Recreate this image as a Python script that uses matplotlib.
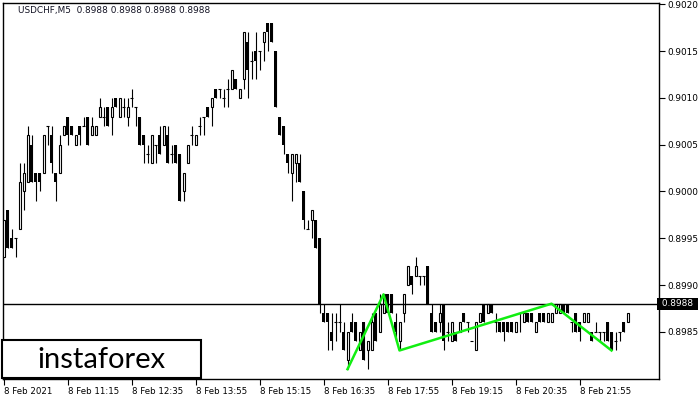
import numpy as np
import matplotlib
matplotlib.use("Agg")
import matplotlib.pyplot as plt
from matplotlib.patches import Rectangle
from matplotlib.ticker import FormatStrFormatter
import matplotlib.transforms as mtransforms

plt.rcParams["font.family"] = "DejaVu Sans"

# USDCHF M5 quotes, in pips (1 pip = 0.0001)
opens = [
    8993, 8998, 8995, 8995, 8996, 9000, 9001, 9005, 9002, 9002,
    9002, 9007, 9006, 9002, 9002, 9006, 9008, 9007, 9005, 9007,
    9007, 9008, 9006, 9006, 9008, 9008, 9009, 9008, 9010, 9008,
    9009, 9008, 9010, 9009, 9008, 9006, 9004, 9003, 9005, 9006,
    9005, 9006, 9004, 9005, 9004, 9000, 9003, 9006, 9005, 9007,
    9008, 9009, 9009, 9011, 9011, 9010, 9011, 9011, 9012, 9010,
    9012, 9016, 9014, 9015, 9015, 9016, 9018, 9018, 9015, 9008,
    9007, 9004, 9002, 9003, 9003, 9000, 8996, 8997, 8997, 8995,
    8987, 8987, 8985, 8986, 8986, 8985, 8982, 8986, 8986, 8983,
    8986, 8983, 8983, 8987, 8985, 8987, 8989, 8989, 8986, 8984,
    8987, 8990, 8991, 8991, 8991, 8991, 8992, 8987, 8986, 8986,
    8988, 8985, 8984, 8985, 8985, 8987, 8986, 8984, 8983, 8986,
    8988, 8987, 8988, 8986, 8986, 8986, 8986, 8986, 8985, 8987,
    8986, 8987, 8987, 8985, 8987, 8987, 8986, 8986, 8987, 8987,
    8988, 8988, 8986, 8987, 8986, 8986, 8986, 8985, 8985, 8985,
    8985, 8986, 8985, 8984, 8985, 8986, 8986,
]
highs = [
    8997, 8998, 8996, 8995, 9003, 9003, 9007, 9006, 9002, 9002,
    9006, 9007, 9007, 9002, 9006, 9007, 9008, 9007, 9006, 9007,
    9008, 9008, 9008, 9007, 9010, 9009, 9009, 9010, 9010, 9010,
    9010, 9010, 9011, 9009, 9008, 9006, 9005, 9006, 9005, 9007,
    9007, 9007, 9005, 9005, 9004, 9002, 9005, 9007, 9006, 9008,
    9008, 9009, 9010, 9011, 9011, 9011, 9012, 9013, 9012, 9011,
    9017, 9017, 9015, 9017, 9015, 9017, 9018, 9018, 9015, 9008,
    9007, 9004, 9004, 9004, 9004, 9000, 8997, 8998, 8997, 8995,
    8988, 8987, 8987, 8987, 8988, 8986, 8985, 8987, 8986, 8985,
    8986, 8984, 8987, 8987, 8989, 8989, 8989, 8989, 8987, 8986,
    8989, 8992, 8991, 8993, 8991, 8991, 8992, 8988, 8986, 8988,
    8988, 8986, 8986, 8985, 8986, 8987, 8986, 8984, 8986, 8987,
    8988, 8988, 8988, 8987, 8986, 8986, 8986, 8986, 8986, 8987,
    8987, 8987, 8987, 8986, 8987, 8987, 8987, 8987, 8988, 8988,
    8988, 8988, 8986, 8987, 8986, 8987, 8987, 8985, 8986, 8985,
    8985, 8986, 8985, 8985, 8985, 8986, 8987,
]
lows = [
    8993, 8994, 8994, 8993, 8996, 8998, 9001, 9001, 8999, 9000,
    9002, 9005, 9002, 8999, 9002, 9006, 9005, 9006, 9005, 9005,
    9007, 9005, 9006, 9006, 9008, 9007, 9007, 9006, 9009, 9008,
    9008, 9007, 9009, 9007, 9005, 9003, 9003, 9003, 9003, 9004,
    9005, 9003, 9003, 9003, 8999, 8999, 9003, 9005, 9005, 9006,
    9006, 9008, 9007, 9010, 9010, 9009, 9009, 9011, 9011, 9010,
    9011, 9010, 9012, 9012, 9013, 9014, 9015, 9016, 9009, 9006,
    9004, 9002, 8999, 9001, 9001, 8996, 8996, 8995, 8994, 8987,
    8986, 8983, 8983, 8984, 8985, 8983, 8981, 8985, 8984, 8983,
    8982, 8981, 8983, 8984, 8985, 8987, 8987, 8987, 8984, 8983,
    8986, 8990, 8989, 8991, 8990, 8990, 8988, 8985, 8985, 8985,
    8983, 8984, 8984, 8984, 8985, 8986, 8985, 8984, 8983, 8986,
    8986, 8987, 8987, 8985, 8985, 8984, 8985, 8985, 8985, 8985,
    8986, 8986, 8986, 8985, 8986, 8986, 8986, 8986, 8987, 8987,
    8987, 8987, 8985, 8985, 8984, 8986, 8986, 8984, 8985, 8984,
    8984, 8984, 8983, 8983, 8984, 8985, 8986,
]
closes = [
    8997, 8994, 8994, 8995, 9001, 9002, 9006, 9001, 9001, 9001,
    9006, 9007, 9003, 9001, 9005, 9007, 9006, 9006, 9006, 9006,
    9007, 9005, 9007, 9007, 9009, 9008, 9007, 9009, 9009, 9010,
    9009, 9009, 9010, 9009, 9005, 9005, 9004, 9006, 9005, 9004,
    9007, 9003, 9004, 9003, 8999, 9002, 9005, 9006, 9006, 9007,
    9008, 9008, 9010, 9010, 9011, 9010, 9011, 9013, 9011, 9011,
    9017, 9013, 9014, 9014, 9015, 9017, 9017, 9016, 9009, 9006,
    9005, 9003, 9004, 9004, 9001, 8997, 8996, 8998, 8994, 8988,
    8986, 8986, 8984, 8986, 8986, 8983, 8985, 8985, 8984, 8985,
    8982, 8984, 8986, 8984, 8988, 8989, 8987, 8987, 8985, 8986,
    8989, 8992, 8990, 8992, 8991, 8991, 8988, 8985, 8985, 8987,
    8984, 8985, 8986, 8984, 8986, 8986, 8986, 8984, 8986, 8987,
    8986, 8988, 8987, 8986, 8985, 8985, 8985, 8985, 8986, 8987,
    8987, 8986, 8986, 8986, 8986, 8986, 8987, 8987, 8988, 8988,
    8987, 8987, 8986, 8985, 8985, 8987, 8987, 8984, 8985, 8985,
    8985, 8984, 8983, 8984, 8985, 8985, 8987,
]

pip = 0.0001
o = np.array(opens) * pip
h = np.array(highs) * pip
l = np.array(lows) * pip
c = np.array(closes) * pip
x = np.arange(len(o))

# pattern zigzag (candle index, price)
pattern_idx = [86, 95, 99, 137, 152]
pattern_px = [0.8981, 0.8989, 0.8983, 0.8988, 0.8983]

bid = 0.8988
tick_idx = [0, 16, 32, 48, 64, 80, 96, 112, 128, 144]
tick_labels = ["8 Feb 2021", "8 Feb 11:15", "8 Feb 12:35", "8 Feb 13:55",
               "8 Feb 15:15", "8 Feb 16:35", "8 Feb 17:55", "8 Feb 19:15",
               "8 Feb 20:35", "8 Feb 21:55"]
price_ticks = [0.8985, 0.8990, 0.8995, 0.9000, 0.9005, 0.9010, 0.9015, 0.9020]

fig = plt.figure(figsize=(7, 4), dpi=100)
ax = fig.add_axes([3 / 700, 21 / 400, 656 / 700, 376 / 400])

ax.vlines(x, l, h, color="black", linewidth=0.8, zorder=2)
up = c > o
down = c < o
flat = c == o
ax.bar(x[down], (o - c)[down], bottom=c[down], width=0.75,
       color="black", linewidth=0, zorder=3)
ax.bar(x[up], (c - o)[up], bottom=o[up], width=0.5,
       facecolor="white", edgecolor="black", linewidth=0.8, zorder=3)
ax.hlines(c[flat], x[flat] - 0.4, x[flat] + 0.4, color="black",
          linewidth=0.8, zorder=3)

ax.axhline(bid, color="black", linewidth=1, zorder=4)
ax.plot(pattern_idx, pattern_px, color="#11ee11", linewidth=1.8, zorder=5)

ax.set_xlim(-0.125, 163.875)
ax.set_ylim(0.897995, 0.902015)

ax.yaxis.tick_right()
ax.set_yticks(price_ticks)
ax.yaxis.set_major_formatter(FormatStrFormatter("%.4f"))
ax.tick_params(axis="y", direction="out", length=4, width=0.8,
               labelsize=6.4, pad=2)
ax.set_xticks(tick_idx)
ax.set_xticklabels(tick_labels, ha="left")
ax.tick_params(axis="x", direction="out", length=4, width=0.8,
               labelsize=6.2, pad=2)
for sp in ax.spines.values():
    sp.set_linewidth(1)

trans = mtransforms.blended_transform_factory(ax.transAxes, ax.transData)
ax.text(1.0, bid, " 0.8988 ", transform=trans, ha="left", va="center",
        fontsize=6.4, color="white", zorder=6, clip_on=False,
        bbox=dict(facecolor="black", edgecolor="none", pad=1.2))

fig.text(18 / 700, 1 - 10 / 400, "USDCHF,M5  0.8988 0.8988 0.8988 0.8988",
         fontsize=6.4, va="center", ha="left", color="#111122")

fig.add_artist(Rectangle((2 / 700, 22 / 400), 199 / 700, 38 / 400,
                         transform=fig.transFigure, facecolor="white",
                         edgecolor="black", linewidth=1.5, zorder=10))
fig.text(101 / 700, 1 - 360 / 400, "instaforex", fontsize=21,
         ha="center", va="center", color="black", zorder=11,
         family=["Lato", "DejaVu Sans"])

fig.savefig("out.png", dpi=100)
